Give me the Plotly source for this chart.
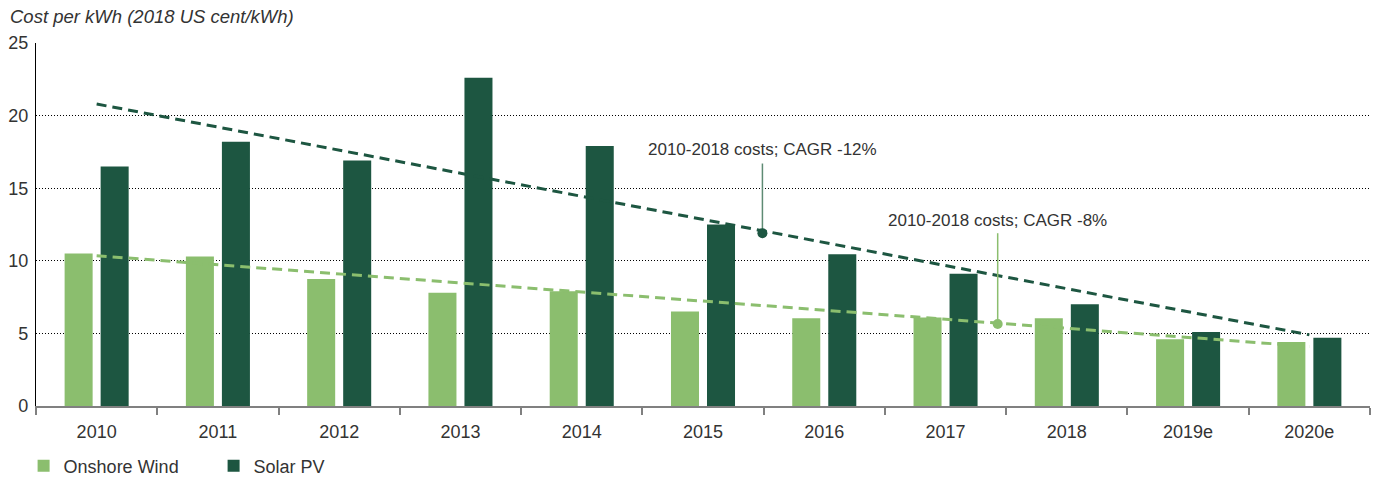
import plotly.graph_objects as go

categories = ["2010", "2011", "2012", "2013", "2014", "2015", "2016", "2017", "2018", "2019e", "2020e"]
onshore_wind = [10.5, 10.3, 8.75, 7.8, 7.9, 6.5, 6.05, 6.1, 6.05, 4.6, 4.4]
solar_pv = [16.5, 18.2, 16.9, 22.6, 17.9, 12.5, 10.45, 9.1, 7.0, 5.1, 4.7]

# trend lines (start at 2010, end at 2020e)
solar_trend = [20.8, 4.9]
wind_trend = [10.35, 4.1]

# CAGR callouts: position along x (category index), dot value, label value
cagr_labels = ["2010-2018 costs; CAGR -12%", "2010-2018 costs; CAGR -8%"]
cagr_x = [5.49, 7.43]
cagr_dot = [11.9, 5.65]
cagr_line_top = [16.7, 11.9]
cagr_text_y = [17.7, 12.8]

LIGHT = "#8bbe6e"
DARK = "#1d5641"
FONT = "Liberation Sans"
xs = list(range(len(categories)))

fig = go.Figure()
fig.add_trace(go.Bar(x=xs, y=onshore_wind, name="Onshore Wind", marker_color=LIGHT, marker_line_width=0))
fig.add_trace(go.Bar(x=xs, y=solar_pv, name="Solar PV", marker_color=DARK, marker_line_width=0))

fig.add_trace(go.Scatter(x=[xs[0], xs[-1]], y=solar_trend, mode="lines",
                         line=dict(color=DARK, width=3, dash="10px,6px"), showlegend=False, hoverinfo="skip"))
fig.add_trace(go.Scatter(x=[xs[0], xs[-1]], y=wind_trend, mode="lines",
                         line=dict(color=LIGHT, width=3, dash="10px,6px"), showlegend=False, hoverinfo="skip"))

line_cols = ["#5e8b74", LIGHT]
dot_cols = [DARK, LIGHT]
for i in range(2):
    fig.add_trace(go.Scatter(x=[cagr_x[i], cagr_x[i]], y=[cagr_dot[i], cagr_line_top[i]], mode="lines",
                             line=dict(color=line_cols[i], width=1.5), showlegend=False, hoverinfo="skip"))
    fig.add_trace(go.Scatter(x=[cagr_x[i]], y=[cagr_dot[i]], mode="markers",
                             marker=dict(color=dot_cols[i], size=10), showlegend=False, hoverinfo="skip"))
    fig.add_annotation(x=cagr_x[i], y=cagr_text_y[i], text=cagr_labels[i], showarrow=False,
                       xanchor="center", yanchor="middle", font=dict(size=17, color="#333333", family=FONT))

fig.add_annotation(xref="paper", yref="paper", x=-0.021, y=1 + 26 / 363, xanchor="left", yanchor="middle",
                   text="<i>Cost per kWh (2018 US cent/kWh)</i>", showarrow=False,
                   font=dict(size=18.5, color="#333333", family=FONT))

fig.update_layout(
    width=1383, height=477,
    margin=dict(l=36, r=13, t=43, b=71, autoexpand=False),
    paper_bgcolor="white", plot_bgcolor="white",
    barmode="group", bargap=0.406, bargroupgap=0.222,
    font=dict(family=FONT, size=18, color="#333333"),
    legend=dict(orientation="h", x=-0.0093, xanchor="left", y=-(60 / 363), yanchor="middle",
                font=dict(size=18, color="#333333", family=FONT), entrywidth=145, traceorder="normal"),
    xaxis=dict(range=[-0.5, 10.5], tickmode="array", tickvals=xs, ticktext=categories, ticks="",
               showline=True, linecolor="#808080", linewidth=1.5, showgrid=False, zeroline=False,
               automargin=False, tickfont=dict(size=18, color="#333333"), ticklabelstandoff=9,
               minor=dict(tickmode="linear", tick0=-0.5, dtick=1, ticks="outside", ticklen=7,
                          tickcolor="#808080", tickwidth=1.5, showgrid=False)),
    yaxis=dict(range=[0, 25], tickmode="linear", tick0=0, dtick=5, showline=True, linecolor="black",
               linewidth=1.2, showgrid=True, gridcolor="black", griddash="1px,2px", gridwidth=1.2,
               automargin=False, zeroline=False, ticks="", ticklabelstandoff=3,
               tickfont=dict(size=18, color="#333333")),
)

fig.write_html("out.html", config={"displayModeBar": False},
               post_script="document.body.style.margin='0';")
